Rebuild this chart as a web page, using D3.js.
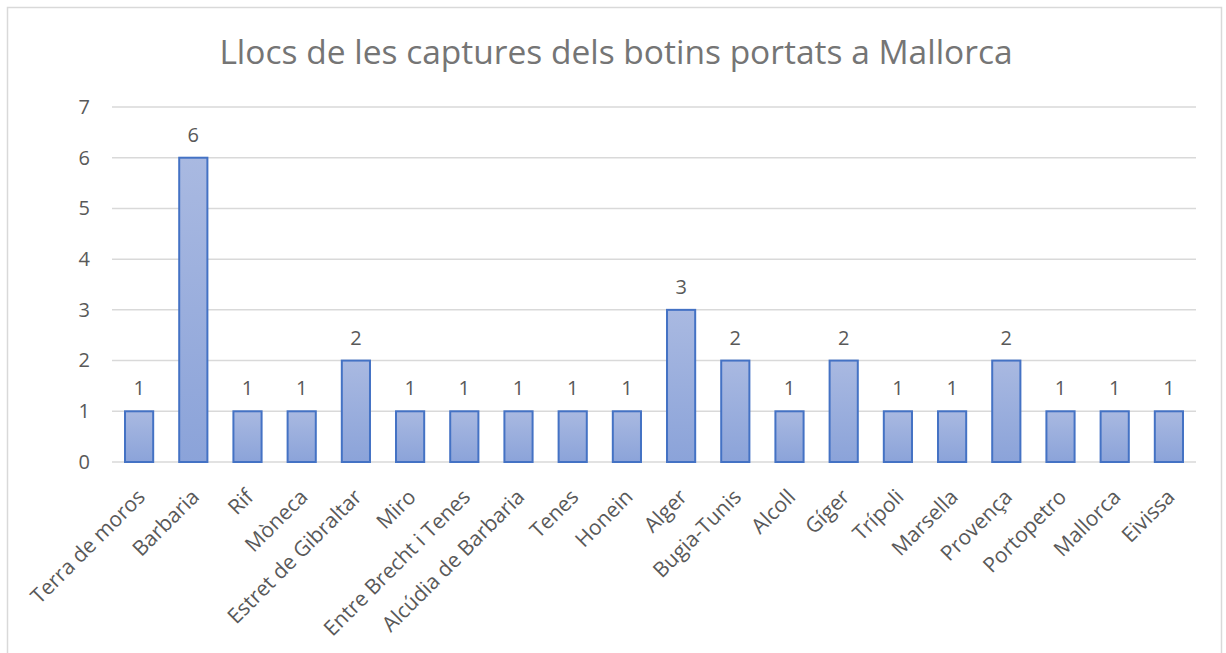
<!DOCTYPE html>
<html>
<head>
<meta charset="utf-8">
<script src="https://cdn.jsdelivr.net/npm/d3@7"></script>
<style>
  body { margin: 0; background: #fff; }
  svg text { font-family: "Open Sans", "Noto Sans", sans-serif; }
</style>
</head>
<body>
<div id="chart"></div>
<script>
const title = 'Llocs de les captures dels botins portats a Mallorca'
const places = ['Terra de moros', 'Barbaria', 'Rif', 'Mòneca', 'Estret de Gibraltar', 'Miro',
  'Entre Brecht i Tenes', 'Alcúdia de Barbaria', 'Tenes', 'Honein', 'Alger', 'Bugia-Tunis',
  'Alcoll', 'Gíger', 'Trípoli', 'Marsella', 'Provença', 'Portopetro', 'Mallorca', 'Eivissa']
const counts = [1, 6, 1, 1, 2, 1, 1, 1, 1, 1, 3, 2, 1, 2, 1, 1, 2, 1, 1, 1]
const yTicks = [0, 1, 2, 3, 4, 5, 6, 7]

const width = 1226
const height = 653
const plot = { left: 112, right: 1196, top: 107, bottom: 462 }
const labelSize = 20

const svg = d3.select('#chart')
  .append('svg')
    .attr('width', width)
    .attr('height', height)

const defs = svg.append('defs')
const grad = defs.append('linearGradient')
  .attr('id', 'barFill')
  .attr('x1', 0).attr('y1', 0).attr('x2', 0).attr('y2', 1)
grad.append('stop').attr('offset', '0%').attr('stop-color', '#a9b9e1')
grad.append('stop').attr('offset', '100%').attr('stop-color', '#8ba3d9')

// chart frame
svg.append('rect')
  .attr('x', 7.5)
  .attr('y', 7.5)
  .attr('width', 1214)
  .attr('height', 700)
  .attr('fill', '#fff')
  .attr('stroke', '#d9d9d9')
  .attr('stroke-width', 1.5)

svg.append('text')
  .attr('x', 616)
  .attr('y', 64)
  .attr('text-anchor', 'middle')
  .attr('font-size', 33.5)
  .attr('fill', '#757575')
  .text(title)

const xScale = d3.scaleBand()
  .domain(places)
  .range([plot.left, plot.right])
  .paddingInner(0.48)
  .paddingOuter(0.24)

const yScale = d3.scaleLinear()
  .domain([0, 7])
  .range([plot.bottom, plot.top])

// gridlines
svg.append('g')
  .selectAll('line')
  .data(yTicks)
  .join('line')
    .attr('x1', plot.left)
    .attr('x2', plot.right)
    .attr('y1', d => yScale(d))
    .attr('y2', d => yScale(d))
    .attr('stroke', '#d9d9d9')
    .attr('stroke-width', 1.5)

const yAxis = svg.append('g')
  .attr('transform', `translate(${plot.left - 22},0)`)
  .call(d3.axisLeft(yScale).tickValues(yTicks).tickFormat(d3.format('d')).tickSize(0).tickPadding(0))
yAxis.select('.domain').remove()
yAxis.selectAll('text')
  .attr('font-size', labelSize)
  .attr('fill', '#595959')
  .attr('font-family', '"Open Sans", sans-serif')

svg.append('g')
  .selectAll('rect')
  .data(counts)
  .join('rect')
    .attr('x', (d, i) => xScale(places[i]))
    .attr('y', d => yScale(d))
    .attr('width', xScale.bandwidth())
    .attr('height', d => yScale(0) - yScale(d))
    .attr('fill', 'url(#barFill)')
    .attr('stroke', '#4472c4')
    .attr('stroke-width', 2)

svg.append('g')
  .selectAll('text')
  .data(counts)
  .join('text')
    .attr('x', (d, i) => xScale(places[i]) + xScale.bandwidth() / 2)
    .attr('y', d => yScale(d) - 16)
    .attr('text-anchor', 'middle')
    .attr('font-size', labelSize)
    .attr('fill', '#595959')
    .text(d => d)

const xAxis = svg.append('g')
  .attr('transform', `translate(0,${plot.bottom})`)
  .call(d3.axisBottom(xScale).tickSize(0).tickPadding(0))
xAxis.select('.domain').remove()
xAxis.selectAll('text')
  .attr('font-size', 21)
  .attr('fill', '#595959')
  .attr('font-family', '"Open Sans", sans-serif')
  .attr('text-anchor', 'end')
  .attr('dy', '0.35em')
  .attr('transform', 'translate(2,31) rotate(-45)')
</script>
</body>
</html>
